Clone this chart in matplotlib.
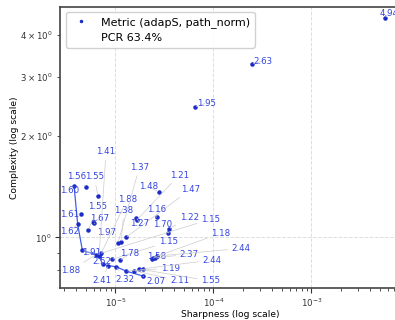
import matplotlib
matplotlib.use('Agg')
import matplotlib.pyplot as plt
from matplotlib.lines import Line2D
import numpy as np

# sharpness / complexity per run, with the metric value shown next to each point
sharpness = [3.79e-6, 5.02e-6, 6.66e-6, 4.43e-6, 4.13e-6, 5.30e-6, 5.88e-6, 6.11e-6,
             4.61e-6, 6.35e-6, 6.82e-6, 7.15e-6, 7.40e-6, 8.48e-6, 1.016e-5, 9.19e-6,
             1.117e-5, 1.066e-5, 1.143e-5, 1.286e-5, 1.638e-5, 1.653e-5, 2.645e-5, 2.792e-5,
             3.474e-5, 3.532e-5, 1.286e-5, 1.551e-5, 1.745e-5, 1.931e-5, 1.918e-5, 2.369e-5,
             2.523e-5, 2.665e-5, 6.51e-5, 2.483e-4, 5.65e-3, 2.425e-5, 6.98e-6]
complexity = [1.423, 1.411, 1.329, 1.171, 1.092, 1.051, 1.113, 1.100,
              0.914, 0.889, 0.880, 0.896, 0.833, 0.824, 0.818, 0.860,
              0.856, 0.964, 0.968, 1.000, 1.144, 1.126, 1.147, 1.363,
              1.030, 1.061, 0.794, 0.796, 0.805, 0.807, 0.767, 0.864,
              0.868, 0.880, 2.439, 3.273, 4.484, 0.871, 0.895]
metric = ['1.60', '1.56', '1.55', '1.61', '1.62', '1.55', '1.67', '1.97',
          '1.91', '1.88', '1.41', '1.88', '2.52', '2.41', '2.32', '1.15',
          '1.78', '1.37', '1.38', '1.47', '1.27', '1.21', '1.16', '1.48',
          '1.70', '1.22', '1.19', '2.11', '1.55', '2.44', '2.07', '1.58',
          '2.37', '2.44', '1.95', '2.63', '4.94', '1.18', '1.15']
pcr = 63.4

# where the labels ended up after spreading them out (data coords)
label_pos = [(3.39e-6, 1.376), (4.04e-6, 1.514), (6.07e-6, 1.514), (3.45e-6, 1.173),
             (3.39e-6, 1.044), (6.66e-6, 1.233), (6.98e-6, 1.139), (8.04e-6, 1.037),
             (5.65e-6, 0.900), (3.51e-6, 0.798), (8.04e-6, 1.797), (1.326e-5, 1.297),
             (7.26e-6, 0.846), (7.26e-6, 0.746), (1.256e-5, 0.750), (3.474e-5, 0.970),
             (1.413e-5, 0.894), (1.758e-5, 1.615), (1.227e-5, 1.205), (5.85e-5, 1.389),
             (1.787e-5, 1.100), (4.50e-5, 1.532), (2.645e-5, 1.211), (2.171e-5, 1.414),
             (3.045e-5, 1.095), (5.69e-5, 1.147), (3.615e-5, 0.809), (4.57e-5, 0.742),
             (9.41e-5, 0.742), (9.63e-5, 0.856), (2.602e-5, 0.738), (2.645e-5, 0.876),
             (5.69e-5, 0.892), (1.917e-4, 0.927), (8.42e-5, 2.506), (3.21e-4, 3.342),
             (6.21e-3, 4.641), (1.190e-4, 1.028), (9.41e-5, 1.133)]

pt_color = '#1a2bc8'
txt_color = '#3344dd'

fig = plt.figure(figsize=(3.95, 3.2), dpi=100)
ax = fig.add_axes([0.152, 0.099, 0.861, 0.88])

ax.scatter(sharpness, complexity, s=5, color=pt_color, zorder=3)

# pareto front: lowest complexity seen so far, walking up in sharpness
order = np.argsort(sharpness)
front_x, front_y = [], []
best = np.inf
for i in order:
    if complexity[i] < best:
        best = complexity[i]
        front_x.append(sharpness[i])
        front_y.append(complexity[i])
ax.plot(front_x, front_y, color='#4060e8', lw=0.9, zorder=2)

for i in range(len(metric)):
    ax.annotate(metric[i], xy=(sharpness[i], complexity[i]), xytext=label_pos[i],
                ha='center', va='center', fontsize=6.2, color=txt_color,
                arrowprops=dict(arrowstyle='-', color='#cccccc', lw=0.5,
                                shrinkA=1, shrinkB=1),
                zorder=4)

ax.set_xscale('log')
ax.set_yscale('log')
ax.set_xlim(2.727e-6, 8.04e-3)
ax.set_ylim(0.7056, 4.845)
ax.grid(True, which='major', linestyle='--', color='#dddddd', lw=0.7)

ax.set_xlabel('Sharpness (log scale)', fontsize=6.6, labelpad=1)
ax.set_ylabel('Complexity (log scale)', fontsize=6.6, labelpad=1)
ax.tick_params(axis='both', which='both', labelsize=6.2, colors='#333333')
ax.tick_params(axis='both', which='major', pad=2.5)
for s in ax.spines.values():
    s.set_color('#444444')
    s.set_linewidth(1.2)

handles = [Line2D([], [], marker='.', linestyle='', color=pt_color, markersize=3),
           Line2D([], [], linestyle='', marker='')]
ax.legend(handles, ['Metric (adapS, path_norm)', 'PCR %.1f%%' % pcr],
          loc='upper left', fontsize=8, labelspacing=0.5, framealpha=0.9)

fig.savefig('out.png', dpi=100)
